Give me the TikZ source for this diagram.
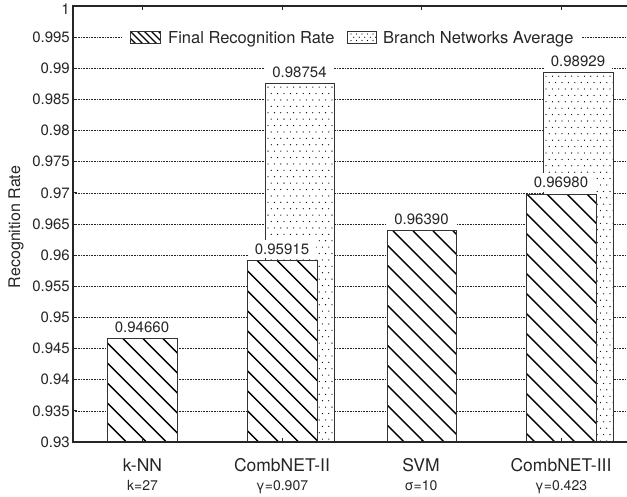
\documentclass[tikz,border=0pt]{standalone}
\usepackage{fontspec}
\setmainfont{TeX Gyre Heros}

% bar helpers: frame + clipped hatching / dot fill
\newcommand\hatchbar[4]{% x1, x2, ytop, phase
  \fill[white] (#1,#3) rectangle (#2,442);
  \begin{scope}
    \clip (#1,#3) rectangle (#2,442);
    \foreach \t in {-440,-420,...,100}{\draw[hatchline] ({#1+\t+#4},#3) -- ++(470,470);}
  \end{scope}
  \draw[barframe] (#1,#3) rectangle (#2,442);
}
\newcommand\dotbar[3]{% x1, x2, ytop
  \fill[white] (#1,#3) rectangle (#2,442);
  \begin{scope}
    \clip (#1,#3) rectangle (#2,442);
    \foreach \j in {0,...,60}{\foreach \i in {0,...,11}{%
      \fill ({#1+3+\i*6.4+mod(\j,2)*3.2},{#3+3.5+\j*6.4}) circle (0.65pt);}}
  \end{scope}
  \draw[barframe] (#1,#3) rectangle (#2,442);
}

\begin{document}
\begin{tikzpicture}[x=1pt,y=-1pt,
  gridline/.style={black!85,line width=0.7pt,dash pattern=on 0.8pt off 0.8pt},
  hatchline/.style={black,line width=1.3pt},
  barframe/.style={black!80,line width=1pt},
  axisline/.style={black!85,line width=1.7pt},
  ticklab/.style={font=\fontsize{15}{18}\selectfont,anchor=east,inner sep=0pt,text=black!85},
  catlab/.style={font=\fontsize{17.5}{20}\selectfont,anchor=base,inner sep=0pt,text=black!85},
  parlab/.style={font=\fontsize{14}{16}\selectfont,anchor=base,inner sep=0pt,text=black!85},
  vallab/.style={font=\fontsize{15}{18}\selectfont,fill=white,inner xsep=7pt,inner ysep=4pt,text=black!85},
  legtext/.style={font=\fontsize{16.5}{19}\selectfont,anchor=base west,inner sep=0pt,text=black!85}]
\useasboundingbox (0,0) rectangle (627,496);
\fill[white] (0,0) rectangle (627,496);

% horizontal grid
\foreach \k in {1,...,13}{\draw[gridline] (73,{6+\k*31.143}) -- (627,{6+\k*31.143});}

% legend
\fill[white] (123,25) rectangle (582,49);
\fill[white] (130,31) rectangle (160,43);
\begin{scope}
  \clip (130,31) rectangle (160,43);
  \foreach \t in {-14,-7,...,35}{\draw[black,line width=1.1pt] ({130+\t},31) -- ++(14,14);}
\end{scope}
\draw[barframe] (130,31) rectangle (160,43);
\node[legtext] (legA) at (168,43) {Final Recognition Rate};
\draw[barframe] (347,31) rectangle (376,43);
\foreach \i in {0,...,4}{\foreach \j in {0,1,2}{\fill ({351+\i*5.5+mod(\j,2)*2.7},{34+\j*3.2}) circle (0.6pt);}}
\node[legtext] (legB) at (383,43) {Branch Networks Average};

% bars (branch average behind, final rate in front)
\hatchbar{107}{177}{338.6}{16}
\dotbar{265}{334.5}{83.6}
\hatchbar{247}{317}{260.4}{10}
\hatchbar{387}{456}{230.9}{6}
\dotbar{543}{613}{72.7}
\hatchbar{526}{596}{194.1}{1}

% value labels
\node[vallab] (v1) at (142,327.3) {0.94660};
\node[vallab] (v2) at (282,249) {0.95915};
\node[vallab] (v3) at (299.5,72.3) {0.98754};
\node[vallab] (v4) at (421.5,219.5) {0.96390};
\node[vallab] (v5) at (561,182.6) {0.96980};
\node[vallab] (v6) at (578,61.4) {0.98929};

% axes and ticks
\draw[axisline] (627,6) -- (73,6) -- (73,442) -- (627,442);
\foreach \k in {1,...,13}{\draw[black!85,line width=1pt] (73,{6+\k*31.143}) -- (77,{6+\k*31.143});}
\foreach \cx in {142,282,421,561}{
  \draw[black!85,line width=1pt] (\cx,6) -- (\cx,10);
  \draw[black!85,line width=1pt] (\cx,442) -- (\cx,438);
}

% tick labels
\node[ticklab] (t0) at (70,9) {1};
\foreach \lab [count=\k] in {0.995,0.99,0.985,0.98,0.975,0.97,0.965,0.96,0.955,0.95,0.945,0.94,0.935,0.93}
  {\node[ticklab] (t\k) at (70,{6+\k*31.143}) {\lab};}

% axis title
\node[font=\fontsize{16}{18}\selectfont,rotate=90,anchor=base,inner sep=0pt,text=black!85] (ylab) at (20,227) {Recognition Rate};

% categories
\node[catlab] (c1) at (142.5,471) {k-NN};
\node[parlab] (p1) at (142.5,490) {k=27};
\node[catlab] (c2) at (282,471) {CombNET-II};
\node[parlab] (p2) at (282,490) {γ=0.907};
\node[catlab] (c3) at (421,471) {SVM};
\node[parlab] (p3) at (421,490) {σ=10};
\node[catlab] (c4) at (561,471) {CombNET-III};
\node[parlab] (p4) at (561,490) {γ=0.423};
\end{tikzpicture}
\end{document}
